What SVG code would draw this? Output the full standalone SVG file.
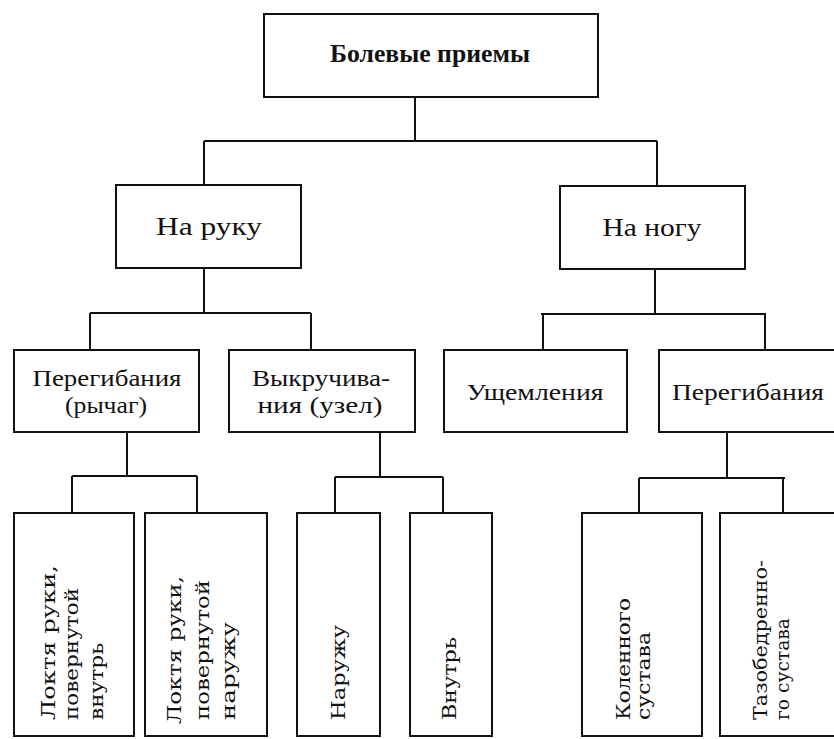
<svg xmlns="http://www.w3.org/2000/svg" width="834" height="739" viewBox="0 0 834 739">
<style>
.box{fill:#fff;stroke:#111;stroke-width:2}
.ln{fill:none;stroke:#111;stroke-width:2}
.t{font-family:"Liberation Serif","DejaVu Serif",serif;fill:#111;text-anchor:middle}
.top{font-size:26px;font-weight:bold}
.l2{font-size:26px}
.l3{font-size:24px}
.v{font-family:"DejaVu Serif","Liberation Serif",serif;font-size:19px;fill:#111}
</style>
<rect width="834" height="739" fill="#fff"/>
<g id="connectors">
<path class="ln" d="M415,97V141M204,141H657M204,141V185M657,141V186"/>
<path class="ln" d="M204,268V313M90,313H311M90,313V350M311,313V350"/>
<path class="ln" d="M655,269V314M541,314H766M543,314V350M765,314V350"/>
<path class="ln" d="M127,432V476M72,476H197M72,476V513M197,476V513"/>
<path class="ln" d="M380,432V477M335,477H443M335,477V513M443,477V513"/>
<path class="ln" d="M727,432V478M639,478H785M639,478V513M783,478V513"/>
</g>
<g id="n_bolevye">
<rect class="box" x="264" y="14" width="334" height="83"/>
<text class="t top" x="430" y="62" textLength="200" lengthAdjust="spacingAndGlyphs">Болевые приемы</text>
</g>
<g id="n_na_ruku">
<rect class="box" x="116" y="185" width="185" height="83"/>
<text class="t l2" x="209" y="235" textLength="106" lengthAdjust="spacingAndGlyphs">На руку</text>
</g>
<g id="n_na_nogu">
<rect class="box" x="560" y="186" width="185" height="83"/>
<text class="t l2" x="652" y="236" textLength="99" lengthAdjust="spacingAndGlyphs">На ногу</text>
</g>
<g id="n_peregib_ruka">
<rect class="box" x="14" y="350" width="185" height="82"/>
<text class="t l3" x="107" y="386" textLength="149" lengthAdjust="spacingAndGlyphs">Перегибания</text>
<text class="t l3" x="106" y="413" textLength="82" lengthAdjust="spacingAndGlyphs">(рычаг)</text>
</g>
<g id="n_vykruch">
<rect class="box" x="229" y="350" width="186" height="82"/>
<text class="t l3" x="321" y="386" textLength="138" lengthAdjust="spacingAndGlyphs">Выкручива-</text>
<text class="t l3" x="320" y="413" textLength="125" lengthAdjust="spacingAndGlyphs">ния (узел)</text>
</g>
<g id="n_ushchem">
<rect class="box" x="444" y="350" width="183" height="82"/>
<text class="t l3" x="535" y="400" textLength="137" lengthAdjust="spacingAndGlyphs">Ущемления</text>
</g>
<g id="n_peregib_noga">
<rect class="box" x="659" y="350" width="185" height="82"/>
<text class="t l3" x="748" y="400" textLength="152" lengthAdjust="spacingAndGlyphs">Перегибания</text>
</g>
<g id="n_loktya_vnutr">
<rect class="box" x="14" y="513" width="120" height="223"/>
<text class="v" transform="translate(55,720) rotate(-90)" textLength="155" lengthAdjust="spacingAndGlyphs">Локтя руки,</text>
<text class="v" transform="translate(78,720) rotate(-90)" textLength="132" lengthAdjust="spacingAndGlyphs">повернутой</text>
<text class="v" transform="translate(103,720) rotate(-90)" textLength="77" lengthAdjust="spacingAndGlyphs">внутрь</text>
</g>
<g id="n_loktya_naruzhu">
<rect class="box" x="145" y="513" width="122" height="223"/>
<text class="v" transform="translate(181,724) rotate(-90)" textLength="148" lengthAdjust="spacingAndGlyphs">Локтя руки,</text>
<text class="v" transform="translate(209,720) rotate(-90)" textLength="140" lengthAdjust="spacingAndGlyphs">повернутой</text>
<text class="v" transform="translate(235,720) rotate(-90)" textLength="98" lengthAdjust="spacingAndGlyphs">наружу</text>
</g>
<g id="n_naruzhu">
<rect class="box" x="297" y="513" width="83" height="223"/>
<text class="v" transform="translate(345,720) rotate(-90)" textLength="95" lengthAdjust="spacingAndGlyphs">Наружу</text>
</g>
<g id="n_vnutr">
<rect class="box" x="410" y="513" width="82" height="223"/>
<text class="v" transform="translate(456,720) rotate(-90)" textLength="83" lengthAdjust="spacingAndGlyphs">Внутрь</text>
</g>
<g id="n_kolennogo">
<rect class="box" x="582" y="513" width="120" height="223"/>
<text class="v" transform="translate(630,720) rotate(-90)" textLength="122" lengthAdjust="spacingAndGlyphs">Коленного</text>
<text class="v" transform="translate(650,720) rotate(-90)" textLength="88" lengthAdjust="spacingAndGlyphs">сустава</text>
</g>
<g id="n_tazobedr">
<rect class="box" x="720" y="513" width="124" height="223"/>
<text class="v" transform="translate(767,720) rotate(-90)" textLength="160" lengthAdjust="spacingAndGlyphs">Тазобедренно-</text>
<text class="v" transform="translate(789,720) rotate(-90)" textLength="102" lengthAdjust="spacingAndGlyphs">го сустава</text>
</g>
</svg>
